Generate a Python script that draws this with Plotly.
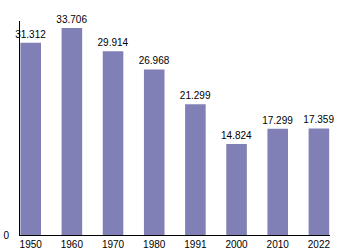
import plotly.graph_objects as go

years = ["1950", "1960", "1970", "1980", "1991", "2000", "2010", "2022"]
population = [31.312, 33.706, 29.914, 26.968, 21.299, 14.824, 17.299, 17.359]
labels = ["31.312", "33.706", "29.914", "26.968", "21.299", "14.824", "17.299", "17.359"]

fig = go.Figure(go.Bar(
    x=years, y=population, text=labels,
    textposition="outside", cliponaxis=False, constraintext="none",
    marker=dict(color="rgb(128,128,182)", line=dict(width=0)),
    textfont=dict(size=10, color="black"),
    hoverinfo="skip",
))

fig.update_layout(
    width=350, height=250,
    margin=dict(l=20, r=20, t=21, b=15, autoexpand=False),
    paper_bgcolor="white", plot_bgcolor="white",
    font=dict(family="Liberation Sans, Arial, sans-serif", size=10, color="black"),
    bargap=0.5,
    showlegend=False,
)
fig.update_xaxes(
    type="category", range=[-0.26, 7.27], automargin=False,
    showline=True, linecolor="black", linewidth=1,
    showgrid=False, ticks="", ticklen=0, tickfont=dict(size=10),
)
fig.update_yaxes(
    range=[0, 34.85], automargin=False, showline=True, linecolor="black", linewidth=1,
    showgrid=False, zeroline=False, ticks="", ticklen=0, ticklabelstandoff=8,
    tickvals=[0], ticktext=["0"], tickfont=dict(size=10),
)

fig.write_html("out.html")
